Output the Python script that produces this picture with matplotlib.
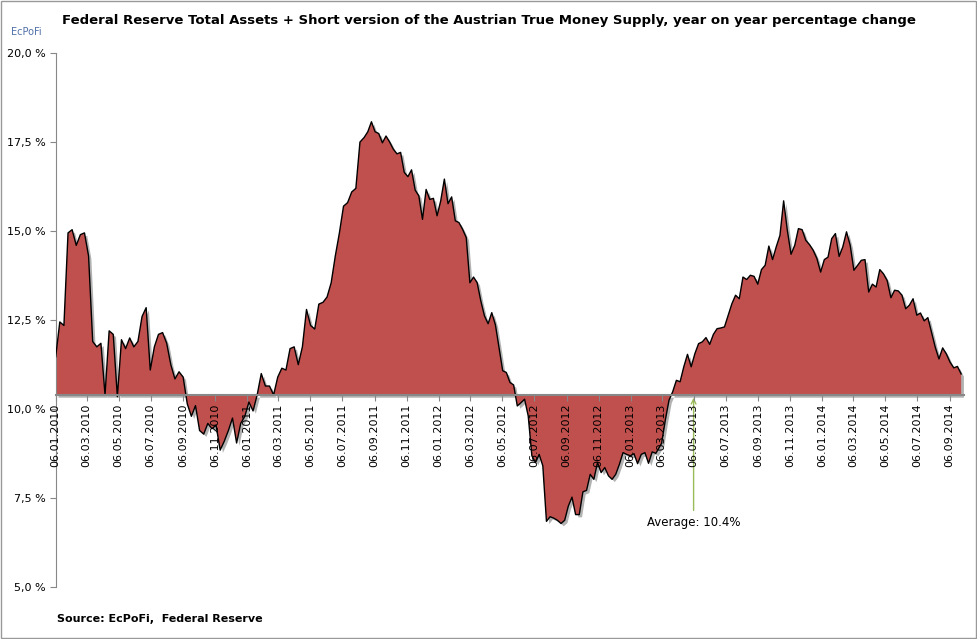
import numpy as np
import pandas as pd
import matplotlib
matplotlib.use("Agg")
import matplotlib.pyplot as plt
import matplotlib.dates as mdates
from matplotlib.ticker import FixedLocator
from matplotlib import patheffects as pe

## weekly values (percent, y/y), in three stretches
vals_2010_11 = [11.47, 12.45, 12.35, 14.95, 15.04, 14.6, 14.9, 14.95, 14.3, 11.9, 11.75, 11.85, 10.4, 12.2, 12.1,
                10.35, 11.95, 11.7, 12.0, 11.75, 11.9, 12.6, 12.85, 11.1, 11.75, 12.1, 12.15, 11.85, 11.25, 10.85,
                11.05, 10.9, 10.15, 9.8, 10.1, 9.4, 9.3, 9.6, 9.45, 9.55, 8.85, 9.1, 9.4, 9.75, 9.05, 9.6, 9.8,
                10.2, 9.95, 10.4, 11.0, 10.65, 10.65, 10.4, 10.9, 11.15, 11.1, 11.7, 11.75, 11.25, 11.75, 12.8,
                12.35, 12.25, 12.95, 13.0, 13.15, 13.55, 14.3, 14.95, 15.7, 15.8, 16.1, 16.2, 17.5]
vals_2011_13 = [17.63, 17.79, 18.07, 17.79, 17.74, 17.48, 17.67, 17.5, 17.3, 17.17, 17.21, 16.65, 16.53, 16.72,
                16.15, 15.99, 15.33, 16.17, 15.89, 15.92, 15.43, 15.85, 16.46, 15.77, 15.96, 15.29, 15.24, 15.05,
                14.82, 13.55, 13.71, 13.55, 13.04, 12.62, 12.4, 12.71, 12.37, 11.73, 11.08, 11.03, 10.75, 10.68,
                10.09, 10.18, 10.28, 9.81, 8.69, 8.5, 8.73, 8.41, 6.85, 6.98, 6.94, 6.88, 6.79, 6.88, 7.28, 7.53,
                7.04, 7.04, 7.68, 7.72, 8.17, 8.03, 8.5, 8.22, 8.36, 8.13, 8.03, 8.17, 8.45, 8.78, 8.73, 8.69,
                8.75, 8.47, 8.73, 8.78, 8.48, 8.8, 8.76]
vals_2013_14 = [9.04, 9.69, 10.25, 10.49, 10.81, 10.77, 11.19, 11.54, 11.19, 11.56, 11.84, 11.89, 12.01, 11.82,
                12.1, 12.26, 12.28, 12.31, 12.64, 12.96, 13.2, 13.1, 13.71, 13.64, 13.76, 13.73, 13.51, 13.92,
                14.04, 14.58, 14.2, 14.56, 14.88, 15.85, 15.02, 14.35, 14.6, 15.07, 15.04, 14.74, 14.62, 14.46,
                14.23, 13.85, 14.2, 14.27, 14.79, 14.93, 14.29, 14.56, 14.98, 14.6, 13.9, 14.04, 14.18, 14.2,
                13.29, 13.51, 13.43, 13.92, 13.8, 13.61, 13.13, 13.34, 13.32, 13.2, 12.82, 12.92, 13.1, 12.64,
                12.7, 12.48, 12.57, 12.16, 11.74, 11.41, 11.72, 11.55, 11.32, 11.16, 11.2, 10.99]
# first / last date of each stretch
spans = [("2010-01-06", "2011-08-09"), ("2011-08-17", "2013-02-23"), ("2013-03-06", "2014-09-28")]

values = np.array(vals_2010_11 + vals_2011_13 + vals_2013_14)
dates = pd.DatetimeIndex(np.concatenate([
    pd.date_range(a, b, periods=len(v)).values
    for (a, b), v in zip(spans, [vals_2010_11, vals_2011_13, vals_2013_14])]))
average = 10.4

tick_dates = pd.date_range("2010-01-01", "2014-10-01", freq="2MS") + pd.Timedelta(days=5)

fig = plt.figure(figsize=(9.77, 6.39), dpi=100)
ax = fig.add_axes([0.057, 0.081, 0.93, 0.836])

fill = ax.fill_between(dates, values, average, color="#C0504D", lw=0, zorder=2)
fill.set_path_effects([pe.SimplePatchShadow(offset=(2, -2), shadow_rgbFace="black", alpha=0.3), pe.Normal()])
ax.plot(dates, values, color="black", lw=1.0, zorder=3)

ax.set_ylim(5, 20)
ax.set_yticks(np.arange(5, 20.01, 2.5))
ax.set_yticklabels([f"{v:.1f} %".replace(".", ",") for v in np.arange(5, 20.01, 2.5)], fontsize=8)
ax.set_xlim(dates[0], dates[-1] + pd.Timedelta(days=6))
ax.xaxis.set_major_locator(FixedLocator(mdates.date2num(tick_dates)))
ax.xaxis.set_major_formatter(mdates.DateFormatter("%d.%m.%Y"))
ax.tick_params(axis="x", labelrotation=90, labelsize=8, pad=2, length=4, color="#888888")
ax.tick_params(axis="y", length=4, color="#888888")
ax.xaxis.set_zorder(5)

for s in ["top", "right"]:
    ax.spines[s].set_visible(False)
ax.spines["left"].set_color("#888888")
ax.spines["bottom"].set_color("#888888")
ax.spines["bottom"].set_linewidth(1.5)
ax.spines["bottom"].set_position(("data", average))
ax.spines["bottom"].set_zorder(4)

ax.annotate("Average: 10.4%", xy=(pd.Timestamp("2013-05-06"), average), xytext=(pd.Timestamp("2013-05-06"), 7.0),
            ha="center", va="top", fontsize=8.5,
            arrowprops=dict(arrowstyle="->", color="#9BBB59", lw=1))

fig.text(0.5, 0.968, "Federal Reserve Total Assets + Short version of the Austrian True Money Supply, year on year percentage change",
         ha="center", va="center", fontsize=9.5, fontweight="bold")
fig.text(0.058, 0.027, "Source: EcPoFi,  Federal Reserve", fontsize=8, fontweight="bold")
fig.text(0.027, 0.945, "EcPoFi", fontsize=7, color="#4F6FA8", ha="center")
fig.patches.append(plt.Rectangle((0.001, 0.001), 0.998, 0.998, transform=fig.transFigure,
                                 fill=False, edgecolor="#999999", lw=1))

plt.savefig("out.png")
